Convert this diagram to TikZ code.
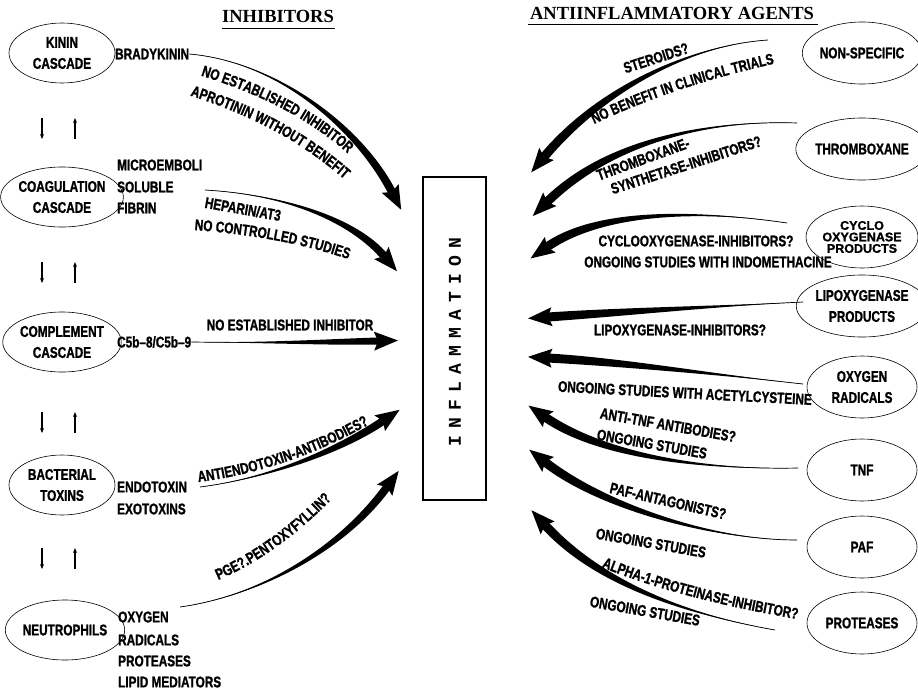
\documentclass[tikz,border=0pt]{standalone}
\usepackage{fontspec}
\newfontfamily\cf[FakeStretch=0.76,FakeBold=1.2]{Liberation Sans Bold}
\newfontfamily\cfw[FakeBold=1.2]{Liberation Sans Bold}
\newfontfamily\hf{Liberation Serif}
\newfontfamily\mf{Liberation Mono}
\usetikzlibrary{calc,shapes.geometric,arrows.meta,decorations.text}
\newcommand\lf{\cf\fontsize{15.5}{21}\selectfont}

% tapered arrow: tail, control 1, control 2, head base, half width
\newcommand\tarrow[5]{%
  \coordinate (tA) at ($(#4)!#5pt!90:(#3)$);
  \coordinate (tB) at ($(#4)!#5pt!-90:(#3)$);
  \coordinate (cA) at ($(#3)!#5pt!-90:(#4)$);
  \coordinate (cB) at ($(#3)!#5pt!90:(#4)$);
  \coordinate (hT) at ($(#4)!-20pt!(#3)$);
  \coordinate (hK) at ($(#4)!4pt!(#3)$);
  \coordinate (hA) at ($(hK)!9.5pt!-90:(#4)$);
  \coordinate (hB) at ($(hK)!9.5pt!90:(#4)$);
  \draw[line width=0.7pt] (#1) .. controls (#2) and (#3) .. (#4);
  \fill (#1) .. controls (#2) and (cA) .. (tA) -- (tB) .. controls (cB) and (#2) .. (#1) -- cycle;
  \fill (hT) -- (hA) -- (#4) -- (hB) -- cycle;
}
% text along a curve: text, path
\newcommand\ctext[2]{%
  \path[decorate, decoration={text along path, text align=center, text={|\lf|#1}}] #2;
}

\begin{document}
\begin{tikzpicture}[x=1pt,y=-1pt,
  lab/.style={font=\lf, inner sep=0pt, align=center},
  ov/.style={draw, ellipse, line width=0.6pt, minimum width=106pt, minimum height=60pt, inner sep=0pt, lab},
  ovr/.style={ov, minimum width=110pt, minimum height=62pt},
  hd/.style={font={\hf\bfseries\fontsize{18.5}{20}\selectfont}, inner sep=0pt},
  sarr/.style={line width=1.1pt, -{Stealth[length=5pt,width=4pt]}}
]
\useasboundingbox (0,0) rectangle (918,694);

% headers
\node[hd] (hinh) at (278,16) {INHIBITORS};
\draw[line width=1.6pt] (222,28.5) -- (335,28.5);
\node[hd] (hanti) at (672,13) {ANTIINFLAMMATORY AGENTS};
\draw[line width=1.6pt] (528,24.5) -- (818,24.5);

% left ovals
\node[ov] (kinin) at (62,53) {KININ\\CASCADE};
\node[ov] (coag) at (62,197) {COAGULATION\\CASCADE};
\node[ov] (compl) at (62,342) {COMPLEMENT\\CASCADE};
\node[ov] (bact) at (62,485) {BACTERIAL\\TOXINS};
\node[ov] (neut) at (65,630) {NEUTROPHILS};

% small arrows between left ovals
\foreach \ya/\yb in {118/139, 262/283, 412/433, 548/569}{
  \draw[sarr] (42,\ya) -- (42,\yb);
  \draw[sarr] (75,\yb) -- (75,\ya);
}

% left mediator labels
\node[lab, anchor=west] (brady) at (115,54) {BRADYKININ};
\node[lab, anchor=west] (micro) at (117,165) {MICROEMBOLI};
\node[lab, anchor=west] (solub) at (117,187) {SOLUBLE};
\node[lab, anchor=west] (fibrin) at (117,208) {FIBRIN};
\node[lab, anchor=west] (c5b) at (117,342) {C5b–8/C5b–9};
\node[lab, anchor=west] (endo) at (117,487) {ENDOTOXIN};
\node[lab, anchor=west] (exo) at (117,509) {EXOTOXINS};
\node[lab, anchor=west] (oxy) at (118,617) {OXYGEN};
\node[lab, anchor=west] (rad) at (118,640) {RADICALS};
\node[lab, anchor=west] (prot) at (118,661) {PROTEASES};
\node[lab, anchor=west] (lipid) at (118,682) {LIPID MEDIATORS};

% central box
\node[draw, line width=1.5pt, minimum width=63pt, minimum height=323pt, inner sep=0pt] (infl) at (454.5,338.5) {};
\foreach \l [count=\i] in {I,N,F,L,A,M,M,A,T,I,O,N}{
  \node[rotate=90, inner sep=0pt, font={\mf\bfseries\fontsize{18}{18}\selectfont}] (L\i) at (455,{441-(\i-1)*18}) {\l};
}

% left arrows
\tarrow{brady.east}{280,62}{360,130}{392,192}{4}
\tarrow{205,190}{290,195}{355,222}{384,256}{4}
\tarrow{c5b.east}{270,343}{340,342}{378,341}{3.5}
\tarrow{200,487}{270,478}{340,450}{383,421}{4}
\tarrow{180,607}{265,595}{345,545}{387,487}{4}

% left arrow labels
\ctext{NO ESTABLISHED INHIBITOR}{(182,70) .. controls (245,88) and (310,114) .. (362,167)}
\ctext{APROTININ WITHOUT BENEFIT}{(175,91) .. controls (240,110) and (303,139) .. (356,190)}
\node[lab, rotate=-10] (t3) at (243,209) {HEPARIN/AT3};
\ctext{NO CONTROLLED STUDIES}{(180,229) .. controls (240,233) and (300,241) .. (362,264)}
\node[lab] (t5) at (290,325) {NO ESTABLISHED INHIBITOR};
\ctext{ANTIENDOTOXIN-ANTIBODIES?}{(180,484) .. controls (250,478) and (320,455) .. (385,415)}
\ctext{PGE?.PENTOXYFYLLIN?}{(200,587) .. controls (250,570) and (300,535) .. (345,485)}

% right ovals
\node[ovr] (nonspec) at (862,53) {NON-SPECIFIC};
\node[ovr] (thromb) at (862,149) {THROMBOXANE};
\node[ovr, font={\cfw\fontsize{12.5}{11.5}\selectfont}] (cyclo) at (862,237) {CYCLO\\OXYGENASE\\PRODUCTS};
\node[ovr] (lipox) at (862,306) {LIPOXYGENASE\\PRODUCTS};
\node[ovr] (oxrad) at (862,387) {OXYGEN\\RADICALS};
\node[ovr] (tnf) at (862,470) {TNF};
\node[ovr] (paf) at (862,547) {PAF};
\node[ovr] (proteases) at (862,623) {PROTEASES};

% right arrows
\tarrow{768,40}{690,45}{600,90}{544,157}{4.5}
\tarrow{797,123}{710,120}{610,140}{547,202}{4.5}
\tarrow{787,223}{700,210}{600,210}{547,247}{4.5}
\tarrow{803,302}{720,306}{620,312}{548,317}{4.5}
\tarrow{803,384}{720,375}{620,362}{548,358}{4.5}
\tarrow{798,468}{700,470}{600,455}{545,417}{4.5}
\tarrow{797,540}{710,540}{600,505}{545,462}{4.5}
\tarrow{775,630}{690,615}{600,585}{545,525}{4.5}

% right arrow labels
\node[lab, rotate=18] (r1) at (656,58) {STEROIDS?};
\ctext{NO BENEFIT IN CLINICAL TRIALS}{(578,132) .. controls (633,104) and (703,78) .. (792,60)}
\node[lab, rotate=20] (r3) at (643,159) {THROMBOXANE-};
\node[lab, rotate=18] (r4) at (686,165) {SYNTHETASE-INHIBITORS?};
\node[lab] (r5) at (696,241) {CYCLOOXYGENASE-INHIBITORS?};
\node[lab] (r6) at (708,262) {ONGOING STUDIES WITH INDOMETHACINE};
\node[lab] (r7) at (680,330) {LIPOXYGENASE-INHIBITORS?};
\node[lab, rotate=-3] (r8) at (685,393) {ONGOING STUDIES WITH ACETYLCYSTEINE};
\node[lab, rotate=-10] (r9) at (668,425) {ANTI-TNF ANTIBODIES?};
\node[lab, rotate=-10] (r10) at (652,444) {ONGOING STUDIES};
\node[lab, rotate=-13] (r11) at (668,501) {PAF-ANTAGONISTS?};
\node[lab, rotate=-10] (r12) at (651,543) {ONGOING STUDIES};
\ctext{ALPHA-1-PROTEINASE-INHIBITOR?}{(585,560) .. controls (640,585) and (720,607) .. (815,622)}
\node[lab, rotate=-10] (r14) at (645,611) {ONGOING STUDIES};
\end{tikzpicture}
\end{document}
